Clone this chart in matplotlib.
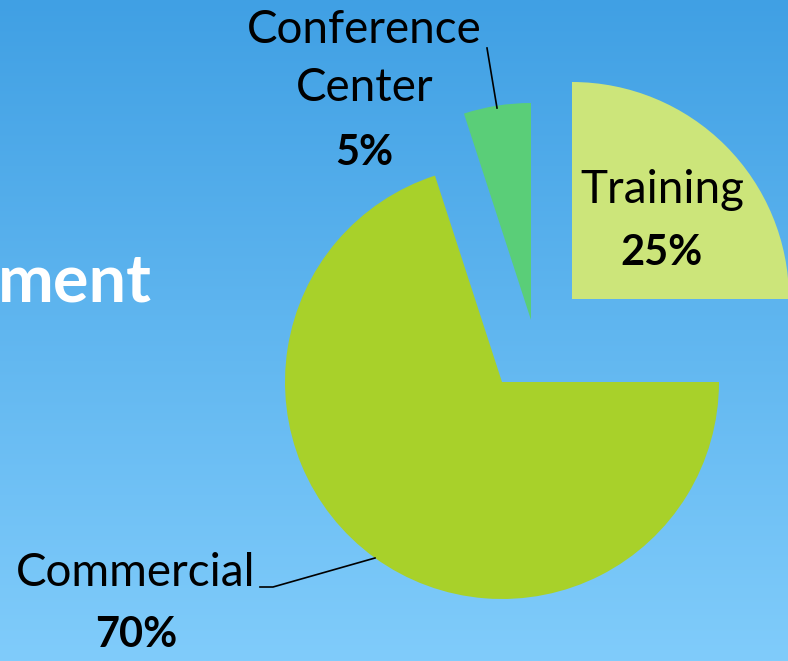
import matplotlib.pyplot as plt
import numpy as np

labels = ["Training", "Commercial", "Conference\nCenter"]
values = [25, 70, 5]
pcts = ["25%", "70%", "5%"]
colors = ["#cce57a", "#a8d12a", "#5ace78"]

W, H = 788, 661
fig = plt.figure(figsize=(W/100, H/100), dpi=100)
ax = fig.add_axes([0, 0, 1, 1])

# background gradient, top darker blue -> bottom lighter
grad = np.linspace(0, 1, 256).reshape(-1, 1)
top = np.array([0x40, 0xa0, 0xe4]) / 255
bot = np.array([0x80, 0xcc, 0xfb]) / 255
img = top + (bot - top) * grad[:, :, None]
ax.imshow(img, extent=[0, W, 0, H], origin="upper", aspect="auto", zorder=0)

font = "Lato"

# pie centred at (502, 382) px from top
cx, cy, r = 502, H - 382, 217
wedges, _ = ax.pie(values, colors=colors, startangle=90, counterclock=False,
                   center=(cx, cy), radius=r, frame=True)
# shift the pulled out slices
shifts = [(70, 83), (0, 0), (29, 62)]
for w, (dx, dy) in zip(wedges, shifts):
    w.set_center((cx + dx, cy + dy))
    w.set_zorder(2)
ax.set_xlim(0, W)
ax.set_ylim(0, H)
ax.set_aspect("auto")
ax.axis("off")

# labels
ax.text(662, H - 190, labels[0], fontsize=33, family=font, ha="center", va="center", zorder=3)
ax.text(662, H - 253, pcts[0], fontsize=30, family=font, weight="bold", ha="center", va="center", zorder=3)

conf1, conf2 = labels[2].split("\n")
ax.text(364, H - 30, conf1, fontsize=33, family=font, ha="center", va="center", zorder=3)
ax.text(365, H - 88, conf2, fontsize=33, family=font, ha="center", va="center", zorder=3)
ax.text(364, H - 153, pcts[2], fontsize=30, family=font, weight="bold", ha="center", va="center", zorder=3)
ax.plot([487, 497], [H - 48, H - 108], color="black", lw=1.2, zorder=3)

ax.text(136, H - 573, labels[1], fontsize=33, family=font, ha="center", va="center", zorder=3)
ax.text(136, H - 635, pcts[1], fontsize=30, family=font, weight="bold", ha="center", va="center", zorder=3)
ax.plot([260, 273, 375], [H - 587, H - 587, H - 558], color="black", lw=1.2, zorder=3)

# clipped title text at left (cut off in the source too)
ax.text(152, H - 283, "ment", fontsize=48, family=font, weight="bold", color="white",
        ha="right", va="center", zorder=3)

fig.savefig("out.png", dpi=100)
